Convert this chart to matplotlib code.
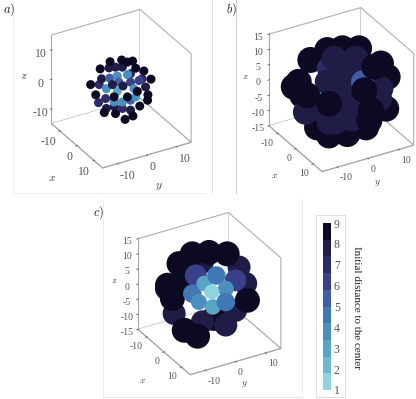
import numpy as np
import matplotlib
matplotlib.use("Agg")
import matplotlib.pyplot as plt
from matplotlib.colors import ListedColormap
from matplotlib.lines import Line2D
from matplotlib.cm import ScalarMappable
from matplotlib.colors import Normalize

W, H = 416, 399
plt.rcParams['font.family'] = ['Liberation Serif', 'DejaVu Serif']
plt.rcParams['mathtext.fontset'] = 'cm'
plt.rcParams['axes.unicode_minus'] = False

band_colors = ['#8fd3dc', '#6bb9cc', '#57a5c5', '#4a8fbd', '#3f78b4',
               '#3f5da8', '#3a3f8a', '#2d2b66', '#1f1c46', '#0b0a22']
cmap = ListedColormap(band_colors)
xy_ticks = [-10, 0, 10]
z_ticks_a = [-10, 0, 10]
z_ticks_bc = [-15, -10, -5, 0, 5, 10, 15]
cbar_ticks = [1, 2, 3, 4, 5, 6, 7, 8, 9]

# Cell positions in view-aligned coordinates (right, up, towards viewer), data units
a_right = [-3.3, 0.1, 1.8, 3.3, -6.2, -9.0, -7.5, -5.0, -1.7, 1.1, 3.4, 5.4, 7.7, 7.8, 8.7, 6.6, 4.2,
           -3.6, -1.7, 0.3, 2.7, -5.8, -6.5, -6.7, -4.6, -4.4, -2.1, 2.7, 0.3, 7.1, 6.1,
           5.2, 2.7, -1.2, -3.4, -4.4, -1.2, 1.8, 0.3, 4.2, 2.7, 3.7, -0.7, -2.1,
           -2.6, 0.5, -2.1, 4.7, 1.8]
a_up = [7.9, 8.4, 7.8, 8.1, 5.8, 1.2, -1.8, -7.0, -7.3, -9.0, -8.0, -5.1, -3.4, -1.8, 2.8, 5.2, 6.0,
        6.1, 6.3, 6.3, 4.4, 2.9, 1.2, -4.1, -2.9, -5.8, -5.2, -6.3, -5.8, 0.5, 2.9,
        2.4, 1.9, 3.7, 3.1, 0.0, -0.8, 4.1, -3.9, -2.4, -3.4, 0.0, 1.9, -3.9,
        1.2, 0.8, -2.4, -0.8, -2.4]
a_depth = [0] * 17 + [-2] * 14 + [3] * 13 + [7] * 5
a_dist = [9] * 17 + [8, 8, 8, 7, 8, 7, 7, 7, 8, 8, 8, 7, 8, 7] + \
         [6, 6, 4, 5, 4, 3, 4, 4, 4, 5, 4, 5, 4] + [8, 8, 9, 9, 9]

b_right = [-4.0, 0.3, 5.0, -8.8, 11.2, 13.1, -12.1, -13.5, -11.1, 12.7, 9.8, -6.9, -3.5, 1.7, 7.0,
           -6.2, 4.9, -1.1, -3.5, -1.4,
           -2.1, 2.2, -4.0, -0.2, 0.8, -10.2, -8.3, -1.6, 3.1, -3.5, 3.6, 11.2, 8.9,
           1.2, -1.6, 7.0, 10.8, 4.1, 3.1,
           6.0,
           9.3, -9.7, -3.5, 6.5, 7.9, 8.4]
b_up = [11.2, 11.7, 11.7, 8.4, 7.4, 3.6, 2.2, 0.8, -1.6, -5.4, -5.4, -10.7, -13.0, -12.6, -10.7,
        -1.0, -5.4, 3.9, 6.0, -0.9,
        8.9, 7.4, 2.2, 4.1, -1.6, -6.4, -5.4, -9.2, -8.3, -9.2, -4.5, 0.3, 0.3,
        -5.9, -4.5, -3.5, -2.6, 8.9, 4.6,
        2.2,
        6.5, -1.6, -4.0, -0.2, -8.8, -5.9]
b_depth = [-4] * 15 + [0] * 5 + [3] * 19 + [5] + [8] * 6
b_dist = [9] * 15 + [4, 4, 4, 7, 5] + [8] * 19 + [5] + [9] * 6

c_right = [-12.3, 10.4, -4.9, -0.1, 5.1, -8.7, -12.0, -10.6, -8.2, 10.9, -7.2, -3.4, 1.3,
           8.5, -2.0, -3.9, 7.5, -10.1, -2.0, 4.7, 7.5,
           2.0, -1.5, 4.7, -4.9, -3.0, 4.7, 1.0, 0.7]
c_up = [1.4, 2.9, 11.4, 11.8, 11.4, 8.6, 2.4, -1.4, 3.3, -1.9, -10.5, -12.2, -7.1,
        7.6, 9.0, 5.2, 3.8, -5.7, -8.1, -9.0, -4.8,
        5.2, 2.9, 1.4, 0.0, -2.4, -2.4, -3.8, 0.5]
c_depth = [-5, -5, 0, 0, 0, 1, 1, 2, 2, 1, 3, 3, -2,
           -1, -1, 2, 2, -1, 1, 1, -1,
           5, 5, 5, 5, 5, 5, 5, 8]
c_dist = [8, 8, 9, 9, 9, 9, 9, 9, 9, 9, 9, 9, 9,
          8, 8, 6.5, 6, 8, 8, 8, 8,
          4.5, 3, 4, 4.5, 4, 4.5, 3, 1]

fig = plt.figure(figsize=(W / 100, H / 100), dpi=100, facecolor='white')


def view_to_data(r, u, d):
    r, u, d = map(np.asarray, (r, u, d))
    return (0.5 * r - 0.433 * u + 0.75 * d,
            0.866 * r + 0.25 * u - 0.433 * d,
            0.866 * u + 0.5 * d)


def panel(center, size, r, u, d, dist, diam, zticks, fs, labpads):
    left = center[0] - size / 2
    bottom = H - center[1] - size / 2
    ax = fig.add_axes([left / W, bottom / H, size / W, size / H], projection='3d')
    ax.set_proj_type('ortho')
    ax.view_init(elev=30, azim=-30)
    ax.set_box_aspect((1, 1, 1))
    ax.patch.set_alpha(0)
    x, y, z = view_to_data(r, u, d)
    s = (np.interp(dist, [1, 4, 5, 8, 9], diam) * 0.72) ** 2
    ax.scatter(x, y, z, c=dist, s=s, cmap=cmap, vmin=1, vmax=9, depthshade=False,
               linewidths=0, alpha=1)
    ax.set_xlim(-15, 15); ax.set_ylim(-15, 15); ax.set_zlim(-15, 15)
    ax.set_xticks(xy_ticks); ax.set_yticks(xy_ticks); ax.set_zticks(zticks)
    ax.grid(False)
    for a in (ax.xaxis, ax.yaxis, ax.zaxis):
        a.set_pane_color((1, 1, 1, 1))
        a.pane.set_edgecolor('#b0b0b0')
        a.pane.set_linewidth(0.8)
        a.line.set_color('#a8a8a8')
        a.line.set_linewidth(0.8)
        a._axinfo['tick']['color'] = '#999999'
        a._axinfo['tick']['linewidth'] = {True: 0.5, False: 0.5}
    ax.tick_params(labelsize=fs, colors='#555555', pad=-5, length=2)
    ax.tick_params(axis='z', pad=-3)
    plt.setp(ax.get_xticklabels(), ha='right')
    plt.setp(ax.get_yticklabels(), ha='left')
    ax.zaxis.set_ticks_position('lower')
    ax.zaxis.set_label_position('lower')
    ax.set_xlabel(r'$x$', fontsize=fs, labelpad=labpads[0], color='#444444')
    ax.set_ylabel(r'$y$', fontsize=fs, labelpad=labpads[1], color='#444444')
    ax.set_zlabel(r'$z$', fontsize=fs, labelpad=labpads[2], color='#444444')
    return ax


panel((119, 91), 172, a_right, a_up, a_depth, a_dist, [9] * 5, z_ticks_a, 8.5, (-3, -6, -8))
panel((339, 92), 178, b_right, b_up, b_depth, b_dist, [16, 17, 23, 25, 26], z_ticks_bc, 7, (-6, -9, -10))
panel((207, 296), 176, c_right, c_up, c_depth, c_dist, [15, 16, 21, 23, 25], z_ticks_bc, 7, (-5, -10, -10))


def px_text(x, y, s, **kw):
    fig.text(x / W, 1 - y / H, s, **kw)


px_text(3, 10, r'$a)$', fontsize=9, va='center', color='#222222')
px_text(226, 10, r'$b)$', fontsize=9, va='center', color='#222222')
px_text(93, 213, r'$c)$', fontsize=9, va='center', color='#222222')


def px_line(x0, y0, x1, y1, color):
    fig.add_artist(Line2D([x0 / W, x1 / W], [1 - y0 / H, 1 - y1 / H], color=color, lw=0.7))


px_line(13, 0, 13, 193, '#eeeeee')
px_line(13, 193, 205, 193, '#eeeeee')
px_line(212, 0, 212, 193, '#e4e4e4')
px_line(236, 0, 236, 193, '#cccccc')
px_line(103, 199, 103, 397, '#eeeeee')
px_line(103, 397, 302, 397, '#e4e4e4')
px_line(302, 199, 302, 397, '#eeeeee')
for seg in [(316, 215, 345, 215), (345, 215, 345, 397), (345, 397, 316, 397), (316, 397, 316, 215)]:
    px_line(*seg, '#dddddd')

cax = fig.add_axes([323.3 / W, 1 - 390 / H, 7.7 / W, 167 / H])
cb = fig.colorbar(ScalarMappable(Normalize(1, 9), cmap), cax=cax, ticks=cbar_ticks)
cb.outline.set_visible(False)
cax.tick_params(length=0, labelsize=8.5, labelcolor='#555555', pad=2)
px_text(356, 307, 'Initial distance to the center', rotation=270, fontsize=8,
        ha='center', va='center', color='#222222')

fig.savefig('out.png', dpi=100)
